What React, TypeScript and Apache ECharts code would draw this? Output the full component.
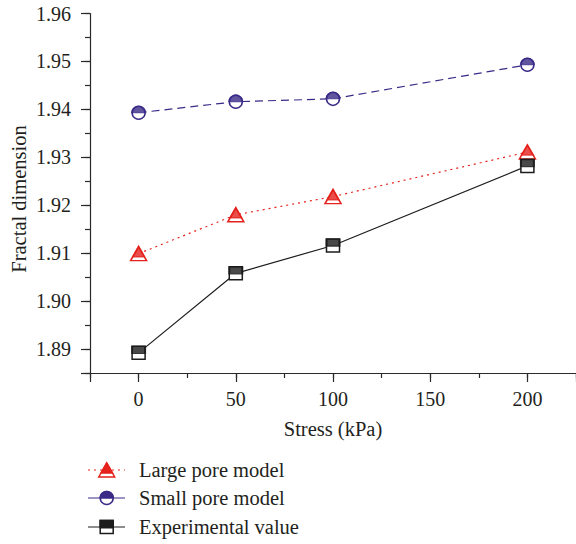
import React, { useEffect, useRef } from "react";
import * as echarts from "echarts";

const stress = [0, 50, 100, 200];
const largePore = [1.9099, 1.918, 1.9218, 1.9311];
const smallPore = [1.9393, 1.9416, 1.9422, 1.9493];
const experimental = [1.8892, 1.9058, 1.9116, 1.9282];
const xTicks = [0, 50, 100, 150, 200];
const yTicks = ["1.89", "1.90", "1.91", "1.92", "1.93", "1.94", "1.95", "1.96"];
const seriesNames = ["Large pore model", "Small pore model", "Experimental value"];
const yName = "Fractal dimension";

const RED = "#e5221d";
const BLUE = "#3b2a88";
const BLACK = "#1c1c1c";
const AXIS = "#2a2a2a";
const TEXT = "#231f20";
const FONT = "Liberation Serif";
const FS = 20;

const pairs = (ys: number[]) => stress.map((x, i) => [x, ys[i]]);

export default function App() {
  const ref = useRef<HTMLDivElement>(null);
  useEffect(() => {
    if (!ref.current) return;
    const chart = echarts.init(ref.current, null, { renderer: "svg" });
    const triW = 16, triH = 14, triF = 0.72;
    const circD = 13;
    const sqW = 13, sqF = 0.55;
    const semi = "path://M0,10A10,10,0,0,1,20,10Z";

    const legendY = [470, 498, 527];
    const lx0 = 88, lx1 = 125, lmx = 106.7;
    const graphic: any[] = [];
    graphic.push({ type: "line", shape: { x1: lx0, y1: legendY[0], x2: lx1, y2: legendY[0] }, style: { stroke: RED, lineWidth: 1.2, lineDash: [2, 4] } });
    graphic.push({ type: "polygon", shape: { points: [[lmx - triW / 2, legendY[0] + triH / 2], [lmx, legendY[0] - triH / 2], [lmx + triW / 2, legendY[0] + triH / 2]] }, style: { fill: "#fff", stroke: RED, lineWidth: 1.5 } });
    graphic.push({ type: "polygon", shape: { points: [[lmx - triW * triF / 2, legendY[0] - triH / 2 + triH * triF], [lmx, legendY[0] - triH / 2], [lmx + triW * triF / 2, legendY[0] - triH / 2 + triH * triF]] }, style: { fill: RED, stroke: RED, lineWidth: 1.5 } });
    graphic.push({ type: "line", shape: { x1: lx0, y1: legendY[1], x2: lx1, y2: legendY[1] }, style: { stroke: BLUE, lineWidth: 1.2 } });
    graphic.push({ type: "circle", shape: { cx: lmx, cy: legendY[1], r: circD / 2 }, style: { fill: "#fff", stroke: BLUE, lineWidth: 1.5 } });
    graphic.push({ type: "sector", shape: { cx: lmx, cy: legendY[1], r: circD / 2, r0: 0, startAngle: Math.PI, endAngle: 2 * Math.PI }, style: { fill: BLUE, stroke: BLUE, lineWidth: 1.5 } });
    graphic.push({ type: "line", shape: { x1: lx0, y1: legendY[2], x2: lx1, y2: legendY[2] }, style: { stroke: BLACK, lineWidth: 1.2 } });
    graphic.push({ type: "rect", shape: { x: lmx - sqW / 2, y: legendY[2] - sqW / 2, width: sqW, height: sqW }, style: { fill: "#fff", stroke: BLACK, lineWidth: 1.5 } });
    graphic.push({ type: "rect", shape: { x: lmx - sqW / 2, y: legendY[2] - sqW / 2, width: sqW, height: sqW * sqF }, style: { fill: BLACK, stroke: BLACK, lineWidth: 1.5 } });
    seriesNames.forEach((n, i) => {
      graphic.push({ type: "text", x: 139, y: legendY[i], style: { text: n, font: `${FS + 0.5}px "${FONT}"`, fill: TEXT, verticalAlign: "middle", align: "left" } });
    });
    graphic.push({
      type: "text",
      x: 19,
      y: 199,
      rotation: Math.PI / 2,
      style: { text: yName, font: `${FS + 0.5}px "${FONT}"`, fill: TEXT, align: "center", verticalAlign: "middle" },
    });

    const axisLine = { show: true, onZero: false, lineStyle: { color: AXIS, width: 1.2 } };
    const labelBase = { fontFamily: FONT, fontSize: FS, color: TEXT };

    chart.setOption({
      animation: false,
      backgroundColor: "#fff",
      grid: { left: 90, right: 0, top: 13.5, bottom: 171, containLabel: false, outerBoundsMode: "none" },
      xAxis: [
        {
          type: "value",
          min: -25,
          max: 225,
          minInterval: 50,
          maxInterval: 50,
          name: "Stress (kPa)",
          nameLocation: "middle",
          nameGap: 45,
          nameTextStyle: { ...labelBase, fontSize: FS + 0.5 },
          axisLine,
          axisTick: { show: true, length: 9, lineStyle: { color: AXIS, width: 1.2 } },
          axisLabel: {
            ...labelBase,
            margin: 16,
            formatter: (v: number) => (xTicks.includes(Math.round(v)) && Math.abs(v - Math.round(v)) < 1e-6 ? String(Math.round(v)) : ""),
          },
          splitLine: { show: false },
        },
        {
          type: "value",
          position: "bottom",
          min: -25,
          max: 225,
          interval: 25,
          axisLine: { show: false, onZero: false },
          axisTick: { show: true, length: 5, lineStyle: { color: AXIS, width: 1.2 } },
          axisLabel: { show: false },
          splitLine: { show: false },
        },
      ],
      yAxis: [
        {
          type: "value",
          min: 1.885,
          max: 1.96,
          minInterval: 0.01,
          maxInterval: 0.01,
          axisLine,
          axisTick: { show: true, length: 9, lineStyle: { color: AXIS, width: 1.2 } },
          axisLabel: {
            ...labelBase,
            margin: 19,
            formatter: (v: number) => {
              const s = v.toFixed(2);
              return yTicks.includes(s) && Math.abs(v - Number(s)) < 1e-6 ? s : "";
            },
          },
          splitLine: { show: false },
        },
        {
          type: "value",
          position: "left",
          min: 1.885,
          max: 1.96,
          interval: 0.005,
          axisLine: { show: false, onZero: false },
          axisTick: { show: true, length: 5, lineStyle: { color: AXIS, width: 1.2 } },
          axisLabel: { show: false },
          splitLine: { show: false },
        },
      ],
      graphic,
      series: [
        {
          name: seriesNames[0],
          type: "line",
          data: pairs(largePore),
          symbol: "triangle",
          symbolSize: [triW, triH],
          lineStyle: { color: RED, width: 1.2, type: [2, 4] },
          itemStyle: { color: "#fff", borderColor: RED, borderWidth: 1.5 },
          z: 2,
        },
        {
          name: seriesNames[1],
          type: "line",
          data: pairs(smallPore),
          symbol: "circle",
          symbolSize: circD,
          lineStyle: { color: BLUE, width: 1.2, type: [8, 5] },
          itemStyle: { color: "#fff", borderColor: BLUE, borderWidth: 1.5 },
          z: 2,
        },
        {
          name: seriesNames[2],
          type: "line",
          data: pairs(experimental),
          symbol: "rect",
          symbolSize: sqW,
          lineStyle: { color: BLACK, width: 1.2 },
          itemStyle: { color: "#fff", borderColor: BLACK, borderWidth: 1.5 },
          z: 2,
        },
        {
          type: "scatter",
          data: pairs(largePore),
          symbol: "triangle",
          symbolSize: [triW * triF, triH * triF],
          symbolOffset: [0, -triH / 2 + (triH * triF) / 2],
          itemStyle: { color: RED, borderColor: RED, borderWidth: 1.5 },
          z: 3,
        },
        {
          type: "scatter",
          data: pairs(smallPore),
          symbol: semi,
          symbolKeepAspect: false,
          symbolSize: [circD, circD / 2],
          symbolOffset: [0, -circD / 4],
          itemStyle: { color: BLUE, borderColor: BLUE, borderWidth: 1.5 },
          z: 3,
        },
        {
          type: "scatter",
          data: pairs(experimental),
          symbol: "rect",
          symbolSize: [sqW, sqW * sqF],
          symbolOffset: [0, -sqW / 2 + (sqW * sqF) / 2],
          itemStyle: { color: BLACK, borderColor: BLACK, borderWidth: 1.5 },
          z: 3,
        },
      ],
    });
    return () => chart.dispose();
  }, []);
  return (
    <div
      ref={ref}
      style={{ position: "fixed", left: 0, top: 0, width: 576, height: 544 }}
    />
  );
}
